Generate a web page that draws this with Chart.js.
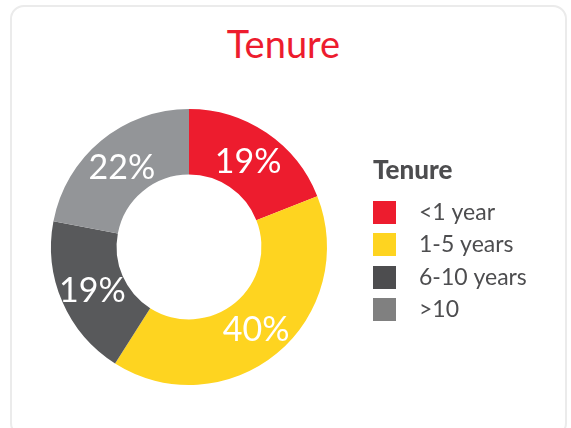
<!DOCTYPE html>
<html>
<head>
<meta charset="utf-8">
<title>Tenure</title>
<script src="https://cdn.jsdelivr.net/npm/chart.js@4"></script>
<style>
  html, body { margin: 0; padding: 0; background: #fff; }
  body { width: 571px; height: 428px; position: relative; overflow: hidden; font-family: Lato, sans-serif; }
  .card {
    position: absolute; left: 10px; top: 5px; width: 557px; height: 432px;
    border: 2px solid #ebebeb; border-radius: 14px; box-sizing: border-box;
  }
  h2 {
    position: absolute; left: -2px; top: 22px; width: 571px; margin: 0;
    text-align: center; font: normal 38px/43px Lato, sans-serif; color: #ED1C2E;
  }
  #tenureChart { position: absolute; left: 0; top: 0; }
</style>
</head>
<body>
<div class="card"></div>
<h2>Tenure</h2>
<canvas id="tenureChart" width="571" height="428"></canvas>
<script>
// data
const categories = ['<1 year', '1-5 years', '6-10 years', '>10'];
const shares = [19, 40, 19, 22];
const sliceColors = ['#ED1C2E', '#FED420', '#58595B', '#939598'];
const swatchColors = ['#ED1C2E', '#FED420', '#4D4D4F', '#808080'];

const textColor = '#4D4D4F';
const itemFont = { family: 'Lato', size: 23 };
const itemPad = 9.5;
const swatchSlot = 25;   // pointStyleWidth

// legend swatch as a small canvas so the square sits flush left under the title
function makeSwatch(color) {
    const c = document.createElement('canvas');
    c.width = swatchSlot + 2 * itemPad;
    c.height = 23;
    const g = c.getContext('2d');
    g.fillStyle = color;
    g.fillRect(0, 0, 23, 23);
    return c;
}
const swatches = swatchColors.map(makeSwatch);

// work out how wide the legend will be, so that it starts at x = 373
function legendWidth() {
    const g = document.createElement('canvas').getContext('2d');
    g.font = itemFont.size + 'px ' + itemFont.family;
    const widest = Math.max(...categories.map(t => g.measureText(t).width));
    return itemPad + swatchSlot + itemFont.size / 2 + widest + 10;
}
const rightPad = 571 - 373 - legendWidth();

// percentage labels inside the slices
const sliceLabels = {
    id: 'sliceLabels',
    afterDatasetsDraw(chart) {
        const ctx = chart.ctx;
        const meta = chart.getDatasetMeta(0);
        ctx.save();
        ctx.font = '34px Lato';
        ctx.fillStyle = '#fff';
        ctx.textAlign = 'center';
        ctx.textBaseline = 'middle';
        meta.data.forEach((arc, i) => {
            const p = arc.tooltipPosition();
            ctx.fillText(shares[i] + '%', p.x, p.y + 2);
        });
        ctx.restore();
    }
};

new Chart(document.getElementById('tenureChart'), {
    type: 'doughnut',
    data: {
        labels: categories,
        datasets: [{
            data: shares,
            backgroundColor: sliceColors,
            borderWidth: 0,
            hoverOffset: 0
        }]
    },
    options: {
        responsive: false,
        animation: false,
        cutout: '52.5%',
        layout: { padding: { left: 5, top: 109, bottom: 43, right: rightPad } },
        plugins: {
            tooltip: { enabled: false },
            legend: {
                position: 'right',
                align: 'start',
                fullSize: false,
                title: {
                    display: true,
                    text: 'Tenure',
                    position: 'start',
                    color: textColor,
                    font: { family: 'Lato', size: 26, weight: '900' },
                    padding: { top: 49, bottom: 2 }
                },
                labels: {
                    font: itemFont,
                    color: textColor,
                    padding: itemPad,
                    usePointStyle: true,
                    pointStyleWidth: swatchSlot,
                    generateLabels: () => categories.map((label, i) => ({
                        text: label,
                        fillStyle: swatchColors[i],
                        strokeStyle: swatchColors[i],
                        lineWidth: 0,
                        pointStyle: swatches[i],
                        fontColor: textColor,
                        hidden: false,
                        index: i
                    }))
                }
            }
        }
    },
    plugins: [sliceLabels]
});
</script>
</body>
</html>
